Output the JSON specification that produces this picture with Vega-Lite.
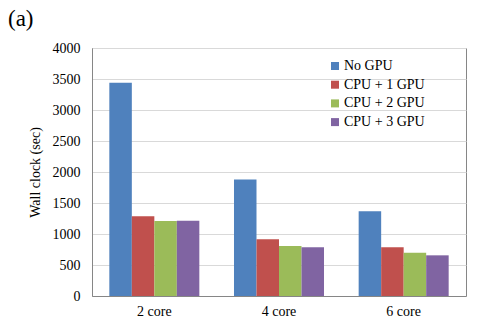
{
  "$schema": "https://vega.github.io/schema/vega-lite/v6.json",
  "autosize": {"type": "none"},
  "width": 374,
  "height": 248,
  "padding": {"top": 48, "left": 92, "right": 22, "bottom": 33},
  "background": "white",
  "title": {
    "text": "(a)",
    "anchor": "start",
    "frame": "group",
    "font": "Liberation Serif",
    "fontSize": 23,
    "fontWeight": "normal",
    "color": "#000000",
    "baseline": "alphabetic",
    "dx": -84,
    "dy": 8,
    "offset": 0
  },
  "data": {
    "values": [
      {"core": "2 core", "series": "No GPU", "value": 3440},
      {"core": "2 core", "series": "CPU + 1 GPU", "value": 1285},
      {"core": "2 core", "series": "CPU + 2 GPU", "value": 1210},
      {"core": "2 core", "series": "CPU + 3 GPU", "value": 1212},
      {"core": "4 core", "series": "No GPU", "value": 1880},
      {"core": "4 core", "series": "CPU + 1 GPU", "value": 914},
      {"core": "4 core", "series": "CPU + 2 GPU", "value": 806},
      {"core": "4 core", "series": "CPU + 3 GPU", "value": 785},
      {"core": "6 core", "series": "No GPU", "value": 1366},
      {"core": "6 core", "series": "CPU + 1 GPU", "value": 785},
      {"core": "6 core", "series": "CPU + 2 GPU", "value": 699},
      {"core": "6 core", "series": "CPU + 3 GPU", "value": 656}
    ]
  },
  "mark": {"type": "bar"},
  "encoding": {
    "x": {
      "field": "core",
      "type": "nominal",
      "scale": {"paddingInner": 0.278, "paddingOuter": 0.139},
      "axis": {
        "title": null,
        "labelAngle": 0,
        "labelFont": "Liberation Serif",
        "labelFontSize": 14,
        "labelColor": "#000000",
        "labelPadding": 8,
        "ticks": false,
        "domainColor": "#868686",
        "domainWidth": 1
      }
    },
    "xOffset": {
      "field": "series",
      "type": "nominal",
      "sort": ["No GPU", "CPU + 1 GPU", "CPU + 2 GPU", "CPU + 3 GPU"],
      "scale": {"paddingInner": 0, "paddingOuter": 0}
    },
    "y": {
      "field": "value",
      "type": "quantitative",
      "scale": {"domain": [0, 4000]},
      "axis": {
        "title": "Wall clock (sec)",
        "titleFont": "Liberation Serif",
        "titleFontSize": 14,
        "titleFontWeight": "normal",
        "titleColor": "#000000",
        "titlePadding": 10,
        "values": [0, 500, 1000, 1500, 2000, 2500, 3000, 3500, 4000],
        "format": "d",
        "labelFont": "Liberation Serif",
        "labelFontSize": 14,
        "labelColor": "#000000",
        "labelPadding": 12,
        "ticks": false,
        "domain": true,
        "domainColor": "#868686",
        "gridColor": "#d9d9d9",
        "gridWidth": 1
      }
    },
    "color": {
      "field": "series",
      "type": "nominal",
      "sort": ["No GPU", "CPU + 1 GPU", "CPU + 2 GPU", "CPU + 3 GPU"],
      "scale": {"range": ["#4f81bd", "#c0504d", "#9bbb59", "#8064a2"]},
      "legend": {
        "title": null,
        "orient": "none",
        "legendX": 236,
        "legendY": 11,
        "padding": 0,
        "symbolType": "square",
        "symbolSize": 64,
        "symbolStrokeWidth": 0,
        "labelFont": "Liberation Serif",
        "labelFontSize": 14,
        "labelColor": "#000000",
        "labelOffset": 2,
        "rowPadding": 4.7
      }
    }
  },
  "config": {
    "view": {"stroke": "#868686", "strokeWidth": 1}
  }
}
